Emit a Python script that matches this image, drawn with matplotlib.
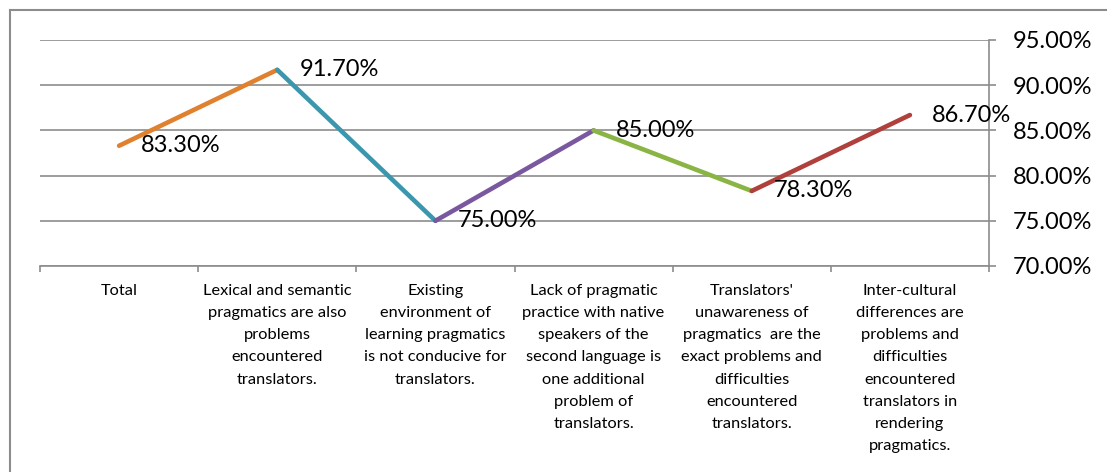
import matplotlib.pyplot as plt
from matplotlib.lines import Line2D

categories = [
    "Total",
    "Lexical and semantic\npragmatics are also\nproblems\nencountered\ntranslators.",
    "Existing\nenvironment of\nlearning pragmatics\nis not conducive for\ntranslators.",
    "Lack of pragmatic\npractice with native\nspeakers of the\nsecond language is\none additional\nproblem of\ntranslators.",
    "Translators'\nunawareness of\npragmatics  are the\nexact problems and\ndifficulties\nencountered\ntranslators.",
    "Inter-cultural\ndifferences are\nproblems and\ndifficulties\nencountered\ntranslators in\nrendering\npragmatics.",
]
values = [83.3, 91.7, 75.0, 85.0, 78.3, 86.7]
segment_colors = ["#E0812F", "#3A97AE", "#7A58A0", "#8AB544", "#B0403B"]
yticks = [70, 75, 80, 85, 90, 95]

W, H = 1107, 472
FONT = "Lato"
GRID = "#8C8C8C"

fig = plt.figure(figsize=(W / 100, H / 100), dpi=100)
ax = fig.add_axes([40 / W, (H - 266) / H, (989 - 40) / W, (266 - 40) / H])

# outer chart frame (right and bottom edges are cut off in the original)
fig.add_artist(Line2D([10 / W, 1.0], [1 - 10 / H, 1 - 10 / H], transform=fig.transFigure, color=GRID, lw=1.5))
fig.add_artist(Line2D([10 / W, 10 / W], [0.0, 1 - 10 / H], transform=fig.transFigure, color=GRID, lw=1.5))

x = list(range(len(values)))
for i, col in enumerate(segment_colors):
    ax.plot(x[i:i + 2], values[i:i + 2], color=col, lw=3.3, solid_capstyle="round", zorder=3)

for xi, v in zip(x, values):
    ax.annotate(f"{v:.2f}%", (xi, v), xytext=(16, 0), textcoords="offset points",
                ha="left", va="center", fontsize=17, family=FONT, zorder=4)

ax.set_xlim(-0.5, len(values) - 0.5)
ax.set_ylim(70, 95)
ax.set_yticks(yticks)
ax.set_yticklabels([f"{t:.2f}%" for t in yticks], fontsize=17, family=FONT)
ax.yaxis.tick_right()
ax.tick_params(axis="y", direction="out", length=5, width=1.2, color=GRID, pad=12)
ax.grid(axis="y", color=GRID, lw=1.2)
ax.set_axisbelow(True)

ax.set_xticks(x)
ax.set_xticklabels(categories, fontsize=11.8, family=FONT, linespacing=1.74, va="top")
ax.set_xticks([i - 0.5 for i in range(len(values) + 1)], minor=True)
ax.tick_params(axis="x", which="major", length=0, pad=13)
ax.tick_params(axis="x", which="minor", direction="out", length=4, width=1.2, color=GRID)

for s in ["left", "top"]:
    ax.spines[s].set_visible(False)
for s in ["right", "bottom"]:
    ax.spines[s].set_color(GRID)
    ax.spines[s].set_linewidth(1.2)

fig.savefig("out.png", dpi=100)
